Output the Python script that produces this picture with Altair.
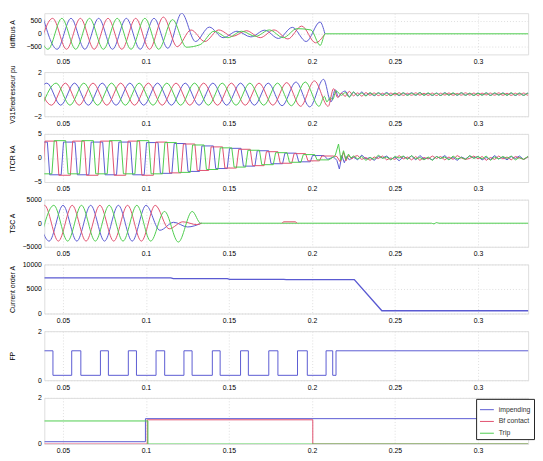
import altair as alt
import pandas as pd

# ---------------- shared settings ----------------
H = 1 / 120                      # half period of the 60 Hz waveforms (s)
X_TICKS = [0.05, 0.1, 0.15, 0.2, 0.25, 0.3]
X_DOMAIN = [0.0388, 0.3302]
NOISE_STEP = 0.0025
BLUE, RED, GREEN = "#5a5ad2", "#e0506e", "#4ccc4c"
FONT = "Liberation Sans"
W = 493

# ---------------- panel 1 : Idiff bus (A), extrema every half cycle ----------------
P1_BLUE_T0 = 0.0382
P1_BLUE = [600, -600, 600, -600, 600, -600, 600, -600, 600, -560, 800, -300, 260, -150, 100, -120, 140, -180, 250, -300, 460]
P1_BLUE_TAIL_T = [0.2078]
P1_BLUE_TAIL_V = [0]
P1_RED_T0 = 0.0355
P1_RED = [-600, 600, -600, 600, -600, 600, -600, 600, -600, 650, -500, 150, -300, 150, -100, 120, -150, 150, -200, 300, -350]
P1_RED_TAIL_T = [0.2078]
P1_RED_TAIL_V = [0]
P1_GREEN_T0 = 0.0327
P1_GREEN = [600, -600, 600, -600, 600, -600, 600, -600, 600, -600, 550, -520, -420, 100, -150, 100, -100, 150, -150, 200, 150]
P1_GREEN_TAIL_T = [0.2050, 0.2080, 0.3400]
P1_GREEN_TAIL_V = [-450, 0, 0]

# ---------------- panel 2 : V315 redresseur (pu) ----------------
P2_BLUE_T0 = 0.0320
P2_BLUE = [-1.0, 1.0, -1.0, 1.0, -1.0, 1.0, -1.0, 1.0, -1.0, 1.0, -1.0, 1.0, -1.0, 1.0, -1.0, 1.0, -1.0, 1.0, -1.05, 1.1, -1.15, 1.35]
P2_BLUE_TAIL_T = [0.2115, 0.2140, 0.2160, 0.2178]
P2_BLUE_TAIL_V = [-0.7, 0.4, -0.25, 0.1]
P2_RED_T0 = 0.0348
P2_RED = [1.0, -1.0, 1.0, -1.0, 1.0, -1.0, 1.0, -1.0, 1.0, -1.0, 1.0, -1.0, 1.0, -1.0, 1.0, -1.0, 1.0, -1.0, 1.05, -1.1, 1.2, -1.1]
P2_RED_TAIL_T = [0.2130, 0.2155, 0.2178]
P2_RED_TAIL_V = [0.5, -0.3, 0.1]
P2_GREEN_T0 = 0.0376
P2_GREEN = [-1.0, 1.0, -1.0, 1.0, -1.0, 1.0, -1.0, 1.0, -1.0, 1.0, -1.0, 1.0, -1.0, 1.0, -1.0, 1.0, -1.0, 1.0, -1.05, 1.1, -1.1]
P2_GREEN_TAIL_T = [0.2075, 0.2090, 0.2110, 0.2125, 0.2145, 0.2178]
P2_GREEN_TAIL_V = [-0.2, -0.7, -0.3, -0.5, 0.3, -0.1]
P2_NOISE_T0 = 0.2200   # residual ripple, hundredths of pu
P2_NOISE_BLUE = [28, -22, 18, -15, 20, -12, 10, -14, 12, -8, 15, -10, 9, -13, 11, -7, 12, -10, 14, -9, 8, -12, 10, -11, 13, -8, 9, -10, 12, -9, 7, -11, 10, -8, 12, -10, 9, -7, 11, -9, 10, -12, 8, -10, 9, -8, 11]
P2_NOISE_RED = [-20, 25, -15, 12, -18, 14, -10, 11, -13, 9, -12, 10, -8, 13, -11, 9, -10, 12, -9, 8, -11, 10, -12, 9, -8, 11, -10, 7, -9, 12, -8, 10, -11, 9, -7, 10, -9, 12, -10, 8, -11, 9, -8, 10, -9, 11, -10]
P2_NOISE_GREEN = [15, -28, 20, -12, 10, -16, 13, -9, 11, -12, 8, -14, 10, -9, 12, -11, 9, -8, 13, -10, 11, -9, 8, -12, 10, -9, 11, -8, 12, -10, 9, -11, 8, -9, 10, -12, 11, -8, 9, -10, 12, -9, 10, -11, 8, -9, 10]

# ---------------- panel 3 : ITCR (kA), plateau value of each half cycle ----------------
P3_RAMP = 0.0007                 # half of the switching edge between two plateaus (s)
P3_BLUE_T0 = 0.0330
P3_BLUE = [3.3, -3.5, 3.3, -3.5, 3.3, -3.5, 3.3, -3.5, 3.2, -3.2, 3.0, -2.8, 2.5, -2.2, 2.0, -1.7, 1.5, -1.2, 1.0, -0.8, 0.5]
P3_BLUE_TAIL_T = [0.2095, 0.2130, 0.2150, 0.2165, 0.2180, 0.2195, 0.2210, 0.2225, 0.2250]
P3_BLUE_TAIL_V = [-0.3, 0.2, -0.5, -2.3, 0.5, -1.0, 0.3, -0.4, 0.2]
P3_RED_T0 = 0.0302
P3_RED = [-3.6, 3.5, -3.6, 3.5, -3.6, 3.5, -3.6, 3.5, -3.6, 3.3, -3.1, 2.9, -2.6, 2.3, -2.1, 1.8, -1.6, 1.3, -1.1, 0.9, -0.6, 0.4]
P3_RED_TAIL_T = [0.2150, 0.2170, 0.2190, 0.2205, 0.2220, 0.2240, 0.2255]
P3_RED_TAIL_V = [0.3, -0.8, 1.2, -0.6, 0.5, -0.2, 0.3]
P3_GREEN_T0 = 0.0274
P3_GREEN = [3.6, -3.3, 3.6, -3.3, 3.6, -3.3, 3.6, -3.3, 3.6, -3.3, 3.2, -3.0, 2.7, -2.4, 2.1, -1.9, 1.6, -1.4, 1.1, -0.9, 0.7, -0.4]
P3_GREEN_TAIL_T = [0.2120, 0.2140, 0.2160, 0.2175, 0.2190, 0.2205, 0.2220, 0.2235, 0.2250]
P3_GREEN_TAIL_V = [0.0, 0.5, 2.9, -0.5, 1.5, -0.3, 0.8, 0.0, 0.4]
P3_NOISE_T0 = 0.2275   # residual ripple, tenths of kA
P3_NOISE_BLUE = [-4, 6, -2, 1, -5, 3, 0, 4, -3, 2, -6, 3, -1, 4, -4, 5, -2, 0, -4, 3, -1, 5, -3, 1, -5, 2, -2, 4, 0, 3, -4, 1, -3, 5, -2, 2, -4, 3, -1, 4, -3, 2, -2]
P3_NOISE_RED = [5, -3, 1, -5, 2, -1, 4, -4, 0, -3, 5, -2, 2, -4, 3, -5, 1, -2, 4, -1, 3, -4, 2, -3, 5, 0, -3, -1, 4, -2, 3, -5, 1, -3, 4, -2, 2, -4, 3, 0, -3, 2, 1]
P3_NOISE_GREEN = [-2, 3, -5, 1, -3, 6, -1, 2, -4, 3, 0, 4, -3, 5, -2, 1, -4, 2, -5, 3, -1, 2, -4, 4, -2, 1, -3, 5, -1, 3, -2, 4, -5, 2, -2, 3, -1, 4, -4, 1, -3, 3, -2]

# ---------------- panel 4 : TSC (A) ----------------
P4_BLUE_T0 = 0.0334
P4_BLUE = [3800, -3800, 3800, -3800, 3800, -3800, 3800, -3800, 3800, -1500, 200, -800]
P4_BLUE_TAIL_T = [0.1334]
P4_BLUE_TAIL_V = [0]
P4_RED_T0 = 0.0306
P4_RED = [-3800, 3800, -3800, 3800, -3800, 3800, -3800, 3800, -3800, 3800, -1200, 300, -300]
P4_RED_TAIL_T = [0.1335]
P4_RED_TAIL_V = [0]
P4_RED_BLIP_T = [0.1820, 0.1830, 0.1900, 0.1910]
P4_RED_BLIP_V = [0, 300, 300, 0]
P4_GREEN_T0 = 0.0362
P4_GREEN = [-3800, 3800, -3800, 3800, -3800, 3800, -3800, 3800, -3800, 2500, -4000, 2500]
P4_GREEN_TAIL_T = [0.1330, 0.2720, 0.2735, 0.2750, 0.2765, 0.3400]
P4_GREEN_TAIL_V = [0, 0, -150, 150, 0, 0]

# ---------------- panel 5 : Current order (A) ----------------
P5_T = [0.0388, 0.1150, 0.1165, 0.1490, 0.1505, 0.1830, 0.1845, 0.2255, 0.2421, 0.3400]
P5_V = [7250, 7250, 7100, 7100, 6950, 6950, 6900, 6900, 550, 550]

# ---------------- panel 6 : FP ----------------
P6_T = [0.0388, 0.0440, 0.0553, 0.0608, 0.0726, 0.0774, 0.0894, 0.0943, 0.1061, 0.1113,
        0.1229, 0.1278, 0.1400, 0.1447, 0.1570, 0.1617, 0.1740, 0.1795, 0.1913, 0.1972,
        0.2085, 0.2125, 0.2145, 0.3400]
P6_V = [1.2, 0.2, 1.2, 0.2, 1.2, 0.2, 1.2, 0.2, 1.2, 0.2,
        1.2, 0.2, 1.2, 0.2, 1.2, 0.2, 1.2, 0.2, 1.2, 0.2,
        1.2, 0.2, 1.2, 1.2]

# ---------------- panel 7 : logic signals ----------------
P7_NAMES = ["impending", "Bf contact", "Trip"]
P7_IMP_T = [0.0388, 0.0997, 0.3400]
P7_IMP_V = [0.1, 1.1, 1.1]
P7_BF_T = [0.0388, 0.1008, 0.2005, 0.3400]
P7_BF_V = [0.0, 1.05, 0.0, 0.0]
P7_TRIP_T = [0.0388, 0.1012, 0.3400]
P7_TRIP_V = [1.0, 0.0, 0.0]


# ---------------- helpers building tables from the arrays ----------------
def extrema_wave(t0, vals, tail_t=(), tail_v=(), noise_t0=None, noise=(), noise_unit=1.0):
    t = [t0 + k * H for k in range(len(vals))] + list(tail_t)
    v = list(vals) + list(tail_v)
    if noise_t0 is not None:
        t += [noise_t0 + k * NOISE_STEP for k in range(len(noise))]
        v += [n * noise_unit for n in noise]
    return pd.DataFrame({"t": t, "v": v})


def plateau_wave(t0, vals, tail_t, tail_v, noise_t0, noise, noise_unit):
    t, v = [], []
    for k, a in enumerate(vals):
        s = t0 + k * H
        t += [s + P3_RAMP, s + H - P3_RAMP]
        v += [a, a]
    t += list(tail_t)
    v += list(tail_v)
    t += [noise_t0 + k * NOISE_STEP for k in range(len(noise))]
    v += [n * noise_unit for n in noise]
    return pd.DataFrame({"t": t, "v": v})


def x_enc():
    return alt.X("t:Q", scale=alt.Scale(domain=X_DOMAIN, nice=False, zero=False),
                 axis=alt.Axis(values=X_TICKS, format="~g", title=None, labelFontSize=7,
                               grid=True, gridDash=[1, 2], ticks=False, tickSize=0,
                               domain=False, labelPadding=3, labelFlush=False))


def y_enc(domain, ticks, title, height, fmt="d"):
    return alt.Y("v:Q", scale=alt.Scale(domain=domain, nice=False, zero=False),
                 axis=alt.Axis(values=ticks, format=fmt, title=title, labelFontSize=7,
                               grid=True, gridDash=[1, 2], ticks=False, tickSize=0,
                               domain=False, labelPadding=3,
                               titleX=-29, titleY=height / 2, titleAngle=-90,
                               titleAlign="center", titleBaseline="bottom",
                               titleFontSize=7, titleFontWeight="normal"))


def panel(layers, height, domain, ticks, title, interp="monotone", fmt="d", sw=1.0):
    charts = []
    for df, col in layers:
        charts.append(
            alt.Chart(df).mark_line(color=col, strokeWidth=sw, clip=True, interpolate=interp)
            .encode(x=x_enc(), y=y_enc(domain, ticks, title, height, fmt))
        )
    return alt.layer(*charts).properties(width=W, height=height)


p1 = panel([
    (extrema_wave(P1_BLUE_T0, P1_BLUE, P1_BLUE_TAIL_T, P1_BLUE_TAIL_V), BLUE),
    (extrema_wave(P1_RED_T0, P1_RED, P1_RED_TAIL_T, P1_RED_TAIL_V), RED),
    (extrema_wave(P1_GREEN_T0, P1_GREEN, P1_GREEN_TAIL_T, P1_GREEN_TAIL_V), GREEN),
], 42, [-800, 800], [-500, 0, 500], "Idiffbus A")

p2 = panel([
    (extrema_wave(P2_BLUE_T0, P2_BLUE, P2_BLUE_TAIL_T, P2_BLUE_TAIL_V, P2_NOISE_T0, P2_NOISE_BLUE, 0.01), BLUE),
    (extrema_wave(P2_RED_T0, P2_RED, P2_RED_TAIL_T, P2_RED_TAIL_V, P2_NOISE_T0, P2_NOISE_RED, 0.01), RED),
    (extrema_wave(P2_GREEN_T0, P2_GREEN, P2_GREEN_TAIL_T, P2_GREEN_TAIL_V, P2_NOISE_T0, P2_NOISE_GREEN, 0.01), GREEN),
], 45, [-2, 2], [-2, 0, 2], "V315redresseur pu")

p3 = panel([
    (plateau_wave(P3_BLUE_T0, P3_BLUE, P3_BLUE_TAIL_T, P3_BLUE_TAIL_V, P3_NOISE_T0, P3_NOISE_BLUE, 0.1), BLUE),
    (plateau_wave(P3_RED_T0, P3_RED, P3_RED_TAIL_T, P3_RED_TAIL_V, P3_NOISE_T0, P3_NOISE_RED, 0.1), RED),
    (plateau_wave(P3_GREEN_T0, P3_GREEN, P3_GREEN_TAIL_T, P3_GREEN_TAIL_V, P3_NOISE_T0, P3_NOISE_GREEN, 0.1), GREEN),
], 49, [-5, 5], [-5, 0, 5], "ITCR kA", interp="linear")

p4 = panel([
    (extrema_wave(P4_BLUE_T0, P4_BLUE, P4_BLUE_TAIL_T, P4_BLUE_TAIL_V), BLUE),
    (extrema_wave(P4_RED_T0, P4_RED, P4_RED_TAIL_T, P4_RED_TAIL_V), RED),
    (extrema_wave(P4_GREEN_T0, P4_GREEN, P4_GREEN_TAIL_T, P4_GREEN_TAIL_V), GREEN),
    (pd.DataFrame({"t": P4_RED_BLIP_T, "v": P4_RED_BLIP_V}), RED),
], 48, [-5000, 5000], [-5000, 0, 5000], "TSC  A")

p5 = panel([(pd.DataFrame({"t": P5_T, "v": P5_V}), BLUE)], 50, [0, 10000], [0, 5000, 10000],
           "Current order A", interp="linear", sw=1.4)

p6 = panel([(pd.DataFrame({"t": P6_T, "v": P6_V}), BLUE)], 50, [0, 2], [0, 1, 2], "FP",
           interp="step-after")

df7 = pd.concat([
    pd.DataFrame({"t": P7_IMP_T, "v": P7_IMP_V, "s": P7_NAMES[0]}),
    pd.DataFrame({"t": P7_BF_T, "v": P7_BF_V, "s": P7_NAMES[1]}),
    pd.DataFrame({"t": P7_TRIP_T, "v": P7_TRIP_V, "s": P7_NAMES[2]}),
], ignore_index=True)

p7 = alt.Chart(df7).mark_line(strokeWidth=1, clip=True, interpolate="step-after").encode(
    x=x_enc(),
    y=y_enc([0, 2], [0, 1, 2], None, 47),
    color=alt.Color("s:N", scale=alt.Scale(domain=P7_NAMES, range=[BLUE, RED, GREEN]),
                    sort=P7_NAMES,
                    legend=alt.Legend(orient="none", legendX=440, legendY=393, title=None,
                                      symbolType="stroke", symbolStrokeWidth=1, symbolSize=200,
                                      labelFontSize=7, labelFont=FONT, labelColor="#333",
                                      fillColor="white", strokeColor="#222", padding=3,
                                      rowPadding=1, labelOffset=4)),
).properties(width=W, height=47)

chart = alt.vconcat(p1, p2, p3, p4, p5, p6, p7, spacing=18, bounds="flush").properties(
    padding={"left": 0, "top": 0, "right": 0, "bottom": 2}
).configure_view(
    stroke="#666", strokeWidth=1
).configure_axis(
    labelFont=FONT, titleFont=FONT, labelColor="#333", titleColor="#333", gridColor="#aaaaaa"
).configure(background="white")

chart.save("out.html", embed_options={"renderer": "svg", "actions": False})
